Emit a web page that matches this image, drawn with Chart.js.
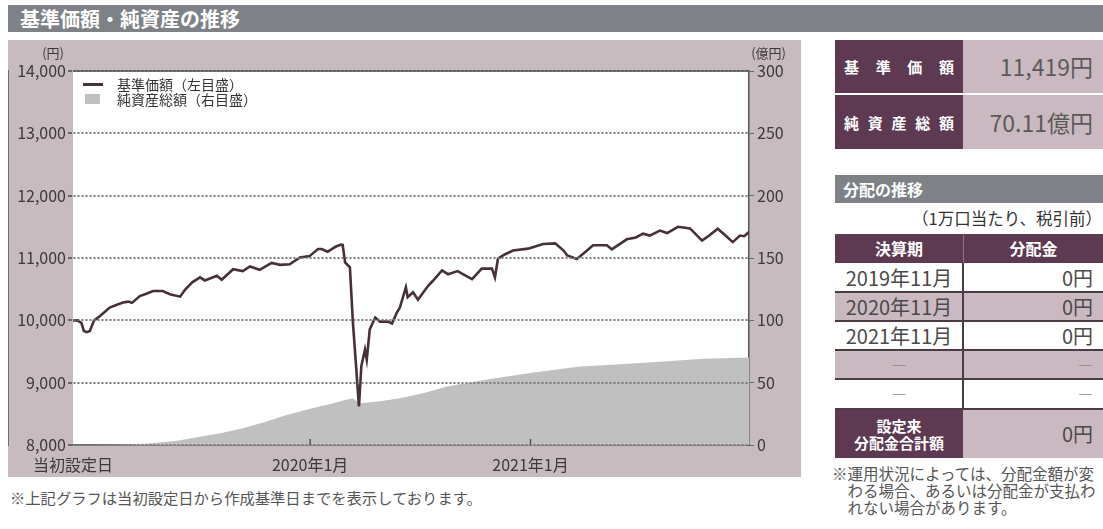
<!DOCTYPE html>
<html lang="ja">
<head>
<meta charset="utf-8">
<script src="https://cdn.jsdelivr.net/npm/chart.js@4.4.1/dist/chart.umd.min.js"></script>
<style>
  body { margin: 0; width: 1103px; height: 529px; background: #fff; position: relative; overflow: hidden;
         font-family: 'Noto Sans CJK JP', 'Noto Sans', sans-serif; color: #444; }
  .abs { position: absolute; box-sizing: border-box; }
  .bar { background: #7e8286; color: #fff; font-weight: bold; }
  #title { left: 8px; top: 5px; width: 1095px; height: 27px; line-height: 27px; font-size: 20px; padding-left: 12px; }
  #panel { left: 8px; top: 40px; width: 793px; height: 437px; background: #c8bbc0; }
  .leg { font-size: 14px; color: #333; line-height: 15px; }
  .purple { background: #5e3a52; color: #fff; font-weight: bold; }
  .mauve { background: #cab9c1; }
  .white { background: #fff; }
  .hline { background: #4a3b45; height: 1.5px; }
  .lbl { display: flex; justify-content: space-between; align-items: center; padding: 0 9px; font-size: 15px; }
  .val { font-size: 23px; color: #5a5a5a; text-align: right; padding-right: 10px; }
  .cell { font-size: 20px; color: #4a4a4a; line-height: 29px; }
  .note { font-size: 15.5px; color: #555; line-height: 17px; white-space: nowrap; }
</style>
</head>
<body>
<div id="title" class="abs bar">基準価額・純資産の推移</div>

<div id="panel" class="abs"><canvas id="navChart" width="793" height="437"></canvas></div>

<!-- 凡例 -->
<div class="abs" style="left:83px;top:83px;width:20px;height:3px;background:#45303b"></div>
<div class="abs leg" style="left:117px;top:77px">基準価額（左目盛）</div>
<div class="abs" style="left:85px;top:94px;width:15px;height:10px;background:#bfbfbf"></div>
<div class="abs leg" style="left:117px;top:92px">純資産総額（右目盛）</div>

<div class="abs note" style="left:10px;top:489px;font-size:15.3px">※上記グラフは当初設定日から作成基準日までを表示しております。</div>

<!-- 基準価額・純資産総額 -->
<div class="abs purple lbl" style="left:835px;top:40px;width:128px;height:53px"><span>基</span><span>準</span><span>価</span><span>額</span></div>
<div class="abs mauve val" style="left:963px;top:40px;width:140px;height:53px;line-height:53px">11,419円</div>
<div class="abs purple lbl" style="left:835px;top:95px;width:128px;height:54px"><span>純</span><span>資</span><span>産</span><span>総</span><span>額</span></div>
<div class="abs mauve val" style="left:963px;top:95px;width:140px;height:54px;line-height:54px">70.11億円</div>

<!-- 分配の推移 -->
<div class="abs bar" style="left:835px;top:175px;width:268px;height:28px;line-height:28px;font-size:16px;padding-left:8px">分配の推移</div>
<div class="abs" style="left:835px;top:209px;width:267px;font-size:16.5px;color:#333;text-align:right;line-height:18px">（1万口当たり、税引前）</div>
<div id="distTable"></div>

<div class="abs note" style="left:832px;top:465px">※運用状況によっては、分配金額が変<br>&emsp;わる場合、あるいは分配金が支払わ<br>&emsp;れない場合があります。</div>

<script>
// 基準価額（円）
const navDates = ['2018-12-03','2018-12-10','2018-12-17','2018-12-21','2018-12-26','2018-12-31','2019-01-07','2019-01-17','2019-02-02','2019-02-14','2019-02-24','2019-03-05','2019-03-11','2019-03-24','2019-04-05','2019-04-15','2019-05-01','2019-05-13','2019-05-30','2019-06-07','2019-06-19','2019-07-02','2019-07-10','2019-07-30','2019-08-07','2019-08-26','2019-09-11','2019-09-23','2019-10-09','2019-10-29','2019-11-12','2019-11-28','2019-12-15','2019-12-31','2020-01-14','2020-01-20','2020-01-30','2020-02-12','2020-02-21','2020-02-24','2020-02-28','2020-03-04','2020-03-07','2020-03-12','2020-03-17','2020-03-22','2020-03-26','2020-04-01','2020-04-04','2020-04-09','2020-04-18','2020-04-26','2020-05-09','2020-05-16','2020-05-24','2020-05-29','2020-06-08','2020-06-11','2020-06-20','2020-06-28','2020-07-15','2020-07-23','2020-08-07','2020-08-17','2020-09-02','2020-09-18','2020-09-26','2020-10-12','2020-10-29','2020-11-03','2020-11-08','2020-11-20','2020-12-03','2020-12-28','2021-01-22','2021-02-11','2021-02-25','2021-03-03','2021-03-19','2021-04-01','2021-04-15','2021-05-08','2021-05-16','2021-06-10','2021-06-25','2021-07-07','2021-07-18','2021-08-04','2021-08-16','2021-09-03','2021-09-23','2021-10-13','2021-10-25','2021-11-08','2021-11-20','2021-12-03','2021-12-15','2021-12-22','2021-12-30'];
const navValues = [10000,10000,9960,9830,9810,9830,10000,10070,10205,10250,10285,10300,10280,10390,10430,10470,10470,10420,10380,10490,10610,10690,10640,10715,10650,10820,10790,10865,10810,10920,10890,10900,11010,11030,11145,11145,11100,11180,11215,11210,10930,10880,10850,9965,9300,8620,9265,9530,9370,9855,10045,9980,9980,9950,10125,10205,10530,10370,10450,10330,10555,10635,10800,10740,10790,10700,10660,10830,10830,10690,10990,11060,11120,11150,11225,11235,11120,11040,10985,11090,11205,11205,11140,11300,11330,11390,11360,11440,11400,11500,11475,11280,11360,11470,11370,11255,11360,11350,11419];

// 純資産総額（億円）
const assetDates = ['2018-12-03','2019-02-07','2019-03-24','2019-04-21','2019-05-25','2019-07-02','2019-08-05','2019-09-11','2019-10-15','2019-11-23','2020-01-06','2020-02-05','2020-03-02','2020-03-12','2020-03-24','2020-04-26','2020-05-29','2020-07-10','2020-08-15','2020-10-19','2020-12-31','2021-03-24','2021-05-23','2021-08-04','2021-10-15','2021-12-30'];
const assetValues = [0,0.3,0.8,1.8,3.5,6.7,9.5,13.4,18,24,29.6,33,36.5,37.2,33.5,35,37.5,42,47,52.4,57.8,63,64.5,66.7,69.1,70.11];

// 横軸の目盛
const xTickDates = ['2018-12-03','2020-01-01','2021-01-01'];
const xTickLabels = ['当初設定日','2020年1月','2021年1月'];

// 分配の推移
const distPeriods = ['2019年11月','2020年11月','2021年11月','―','―'];
const distAmounts = ['0円','0円','0円','―','―'];
const distTotal = '0円';

const dayNum = s => {
    const [y, m, d] = s.split('-').map(Number);
    const [y0, m0, d0] = navDates[0].split('-').map(Number);
    return (Date.UTC(y, m - 1, d) - Date.UTC(y0, m0 - 1, d0)) / 864e5;
};

// 分配表
function renderTable() {
    const host = document.getElementById('distTable');
    let html = '';
    html += `<div class="abs purple" style="left:835px;top:234px;width:128px;height:29px;line-height:29px;text-align:center;font-size:16px">決算期</div>`;
    html += `<div class="abs purple" style="left:963px;top:234px;width:140px;height:29px;line-height:29px;text-align:center;font-size:16px;border-left:1px solid #8d7384">分配金</div>`;
    distPeriods.forEach((p, i) => {
        const top = 263 + i * 29;
        const cls = i % 2 === 0 ? 'white' : 'mauve';
        const dash = p === '―';
        html += `<div class="abs ${cls} cell" style="left:835px;top:${top}px;width:268px;height:29px"></div>`;
        html += `<div class="abs cell" style="left:835px;top:${top}px;width:128px;height:29px;text-align:center;${dash ? 'color:#888;font-size:15px' : ''}">${p}</div>`;
        html += `<div class="abs cell" style="left:963px;top:${top}px;width:130px;height:29px;text-align:right;${dash ? 'color:#888;font-size:15px' : ''}">${distAmounts[i]}</div>`;
        if (i > 0) html += `<div class="abs hline" style="left:835px;top:${top - 1}px;width:268px"></div>`;
    });
    html += `<div class="abs hline" style="left:835px;top:408px;width:268px"></div>`;
    html += `<div class="abs" style="left:962px;top:263px;width:1.5px;height:147px;background:#4a3b45"></div>`;
    html += `<div class="abs purple" style="left:835px;top:410px;width:128px;height:48px;text-align:center;font-size:15px;line-height:17px;padding-top:7px">設定来<br>分配金合計額</div>`;
    html += `<div class="abs mauve cell" style="left:963px;top:410px;width:140px;height:48px;line-height:48px;text-align:right;padding-right:10px">${distTotal}</div>`;
    host.innerHTML = html;
}
renderTable();

const tickFont = { family: "'Noto Sans CJK JP', sans-serif", size: 16 };

const plotBackground = {
    id: 'plotBackground',
    beforeDraw(chart) {
        const { ctx, chartArea: a } = chart;
        ctx.save();
        ctx.fillStyle = '#ffffff';
        ctx.fillRect(a.left, a.top, a.right - a.left, a.bottom - a.top);
        ctx.restore();
    }
};

// 単位ラベル、上辺の枠線、横軸の内向き目盛
const axisExtras = {
    id: 'axisExtras',
    afterDraw(chart) {
        const { ctx, chartArea: a, scales } = chart;
        ctx.save();
        ctx.fillStyle = '#3a3a3a';
        ctx.textBaseline = 'middle';
        ctx.textAlign = 'right';
        ctx.font = "13px 'Noto Sans CJK JP'";
        ctx.fillText('(円)', a.left - 9, a.top - 18);
        ctx.fillText('(億円)', a.right + 37, a.top - 18);
        ctx.strokeStyle = '#555';
        ctx.lineWidth = 1.5;
        ctx.beginPath();
        ctx.moveTo(a.left, a.top);
        ctx.lineTo(a.right, a.top);
        ctx.stroke();
        xTickDates.slice(1).forEach(d => {
            const x = scales.x.getPixelForValue(dayNum(d));
            ctx.beginPath();
            ctx.moveTo(x, a.bottom);
            ctx.lineTo(x, a.bottom - 6);
            ctx.stroke();
        });
        ctx.restore();
    }
};

new Chart(document.getElementById('navChart'), {
    type: 'line',
    data: {
        datasets: [{
            label: '基準価額（左目盛）',
            data: navDates.map((d, i) => ({ x: dayNum(d), y: navValues[i] })),
            yAxisID: 'y',
            borderColor: '#45303b',
            borderWidth: 2.6,
            pointRadius: 0,
            tension: 0,
            fill: false
        }, {
            label: '純資産総額（右目盛）',
            data: assetDates.map((d, i) => ({ x: dayNum(d), y: assetValues[i] })),
            yAxisID: 'y2',
            borderColor: 'transparent',
            borderWidth: 0,
            backgroundColor: '#c0c0c0',
            pointRadius: 0,
            tension: 0,
            fill: 'origin'
        }]
    },
    options: {
        responsive: false,
        animation: false,
        layout: { padding: { top: 31, left: 0, right: 0, bottom: 0 } },
        plugins: { legend: { display: false }, tooltip: { enabled: false } },
        scales: {
            x: {
                type: 'linear',
                min: 0,
                max: dayNum(navDates[navDates.length - 1]),
                afterBuildTicks: s => { s.ticks = xTickDates.map(d => ({ value: dayNum(d) })); },
                afterFit: s => { s.height = 32; },
                ticks: {
                    autoSkip: false, maxRotation: 0, padding: 10, color: '#3a3a3a', font: tickFont,
                    callback: v => xTickLabels[xTickDates.findIndex(d => dayNum(d) === v)]
                },
                grid: { drawOnChartArea: false, drawTicks: false },
                border: { display: true, color: '#555', width: 1.5 }
            },
            y: {
                position: 'left',
                min: 8000, max: 14000,
                afterFit: s => { s.width = 65; },
                ticks: {
                    stepSize: 1000, padding: 2, color: '#3a3a3a', font: tickFont,
                    callback: v => v.toLocaleString('en-US')
                },
                grid: { z: 1, color: '#7a7a7a', lineWidth: 2, tickLength: 5, tickColor: '#666' },
                border: { display: true, color: '#555', width: 1.5, dash: [2, 2] }
            },
            y2: {
                position: 'right',
                min: 0, max: 300,
                afterFit: s => { s.width = 52; },
                ticks: { stepSize: 50, padding: 3, color: '#3a3a3a', font: tickFont },
                grid: { drawOnChartArea: false, tickLength: 5, tickColor: '#666' },
                border: { display: true, color: '#555', width: 1.5 }
            }
        }
    },
    plugins: [plotBackground, axisExtras]
});
</script>
</body>
</html>
